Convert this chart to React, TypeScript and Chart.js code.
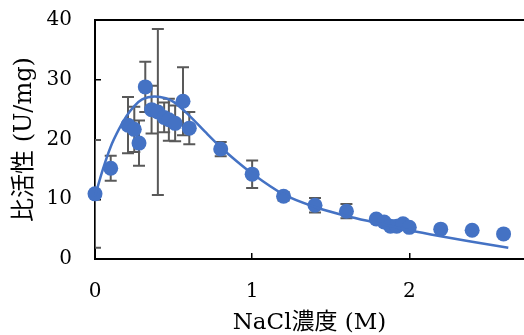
import React, { useEffect, useRef } from "react";
import { Chart, registerables } from "chart.js";

Chart.register(...registerables);

// Measured data (NaCl concentration in M, specific activity in U/mg)
const xValues = [0, 0.1, 0.21, 0.25, 0.28, 0.32, 0.36, 0.4, 0.44, 0.47, 0.51, 0.56, 0.6, 0.8, 1.0, 1.2, 1.4, 1.6, 1.79, 1.84, 1.88, 1.92, 1.96, 2.0, 2.2, 2.4, 2.6];
const yValues = [10.9, 15.2, 22.4, 21.7, 19.4, 28.8, 25.0, 24.6, 23.7, 23.3, 22.7, 26.4, 21.9, 18.4, 14.2, 10.5, 9.0, 8.0, 6.7, 6.2, 5.5, 5.5, 5.9, 5.3, 5.0, 4.8, 4.2];
const yErrors = [9.0, 2.1, 4.7, 3.8, 3.8, 4.2, 4.0, 13.9, 2.5, 3.5, 3.0, 5.7, 2.7, 1.2, 2.3, 0.7, 1.2, 1.2, 0, 0, 0, 0, 0, 0, 0, 0, 0];

// Fitted curve
const fitX = [0, 0.05, 0.1, 0.15, 0.2, 0.25, 0.3, 0.38, 0.45, 0.5, 0.6, 0.7, 0.8, 0.9, 1.0, 1.2, 1.4, 1.6, 1.8, 2.0, 2.2, 2.4, 2.63];
const fitY = [10.5, 15.0, 18.8, 21.6, 23.9, 25.6, 26.7, 27.2, 26.9, 26.3, 24.0, 21.3, 18.7, 16.4, 14.3, 10.8, 8.7, 7.2, 6.0, 4.8, 3.8, 2.9, 1.9];

const xTicks = [0, 1, 2];
const yTicks = [0, 10, 20, 30, 40];
const xTitle = "NaCl濃度 (M)";
const yTitle = "比活性 (U/mg)";

const BLUE = "#4472C4";
const FONT = '"DejaVu Serif", "Noto Sans CJK JP", serif';

const errorBarPlugin = {
  id: "errorBars",
  beforeDatasetsDraw(chart: any) {
    const { ctx, chartArea } = chart;
    const xs = chart.scales.x;
    const ys = chart.scales.y;
    ctx.save();
    ctx.beginPath();
    ctx.rect(chartArea.left, chartArea.top, chartArea.right - chartArea.left, chartArea.bottom - chartArea.top);
    ctx.clip();
    ctx.strokeStyle = "#595959";
    ctx.lineWidth = 2;
    const cap = 6;
    for (let i = 0; i < xValues.length; i++) {
      const e = yErrors[i];
      if (!e) continue;
      const px = xs.getPixelForValue(xValues[i]);
      const top = ys.getPixelForValue(yValues[i] + e);
      const bot = ys.getPixelForValue(yValues[i] - e);
      ctx.beginPath();
      ctx.moveTo(px, top);
      ctx.lineTo(px, bot);
      ctx.moveTo(px - cap, top);
      ctx.lineTo(px + cap, top);
      ctx.moveTo(px - cap, bot);
      ctx.lineTo(px + cap, bot);
      ctx.stroke();
    }
    ctx.restore();
  },
};

const topBorderPlugin = {
  id: "topBorder",
  afterDraw(chart: any) {
    const { ctx, chartArea } = chart;
    ctx.save();
    ctx.strokeStyle = "#000";
    ctx.lineWidth = 2;
    ctx.beginPath();
    ctx.moveTo(chartArea.left - 1, chartArea.top);
    ctx.lineTo(chartArea.right, chartArea.top);
    ctx.stroke();
    ctx.restore();
  },
};

export default function App() {
  const canvasRef = useRef<HTMLCanvasElement | null>(null);

  useEffect(() => {
    if (!canvasRef.current) return;
    const chart = new Chart(canvasRef.current, {
      type: "scatter",
      data: {
        datasets: [
          {
            label: "fit",
            data: fitX.map((x, i) => ({ x, y: fitY[i] })),
            showLine: true,
            borderColor: BLUE,
            borderWidth: 2.5,
            pointRadius: 0,
            cubicInterpolationMode: "monotone",
            fill: false,
            clip: false,
          },
          {
            label: "data",
            data: xValues.map((x, i) => ({ x, y: yValues[i] })),
            backgroundColor: BLUE,
            borderColor: BLUE,
            borderWidth: 0,
            pointRadius: 7.5,
            showLine: false,
            clip: false,
          },
        ],
      },
      options: {
        responsive: false,
        animation: false,
        layout: { autoPadding: false, padding: { left: 0, top: 20, right: 0, bottom: 0 } },
        plugins: {
          legend: { display: false },
          tooltip: { enabled: false },
        },
        scales: {
          x: {
            type: "linear",
            position: "bottom",
            min: 0,
            max: 2.73,
            afterBuildTicks: (s: any) => {
              s.ticks = xTicks.map((v) => ({ value: v }));
            },
            afterFit: (s: any) => {
              s.height = 76;
              s.paddingLeft = 0;
              s.paddingRight = 0;
              s.paddingTop = 0;
              s.paddingBottom = 0;
            },
            ticks: {
              font: { family: FONT, size: 20 },
              color: "#000",
              padding: 27,
              maxRotation: 0,
            },
            grid: { drawOnChartArea: false, tickLength: -6, color: "#000", lineWidth: 1.5 },
            border: { color: "#000", width: 2 },
            title: {
              display: true,
              text: xTitle,
              font: { family: FONT, size: 23, lineHeight: 1 },
              color: "#000",
              padding: { top: 0, bottom: 0 },
            },
          },
          y: {
            type: "linear",
            min: 0,
            max: 40,
            afterBuildTicks: (s: any) => {
              s.ticks = yTicks.map((v) => ({ value: v }));
            },
            afterFit: (s: any) => {
              s.width = 95;
              s.paddingLeft = 0;
              s.paddingRight = 0;
              s.paddingTop = 0;
              s.paddingBottom = 0;
            },
            ticks: {
              font: { family: FONT, size: 20 },
              color: "#000",
              padding: 29,
            },
            grid: { drawOnChartArea: false, tickLength: -6, color: "#000", lineWidth: 1.5 },
            border: { color: "#000", width: 2 },
            title: {
              display: true,
              text: yTitle,
              font: { family: FONT, size: 24, lineHeight: 1 },
              color: "#000",
              padding: { top: 13, bottom: 0 },
            },
          },
        },
      },
      plugins: [errorBarPlugin, topBorderPlugin],
    } as any);
    return () => chart.destroy();
  }, []);

  return (
    <div style={{ position: "absolute", left: 0, top: 0, width: 524, height: 335, background: "#fff" }}>
      <canvas ref={canvasRef} width={524} height={335} style={{ display: "block" }} />
    </div>
  );
}
